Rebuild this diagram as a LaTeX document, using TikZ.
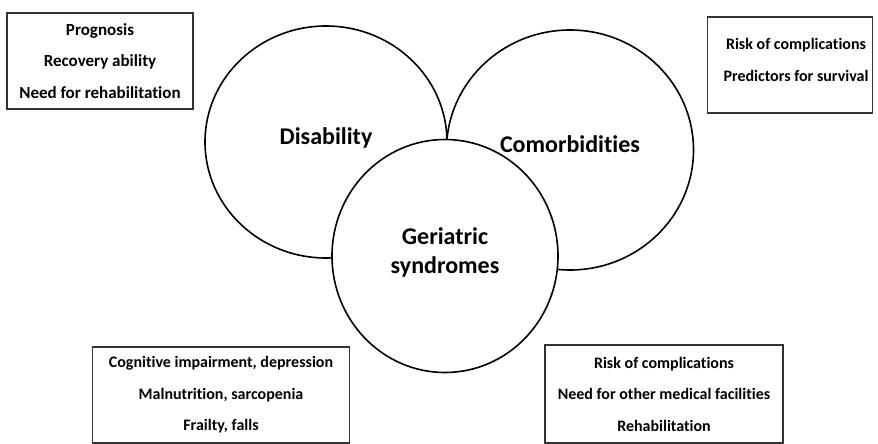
\documentclass[tikz,border=0pt]{standalone}
\usepackage{fontspec}
\setmainfont{Carlito}[Ligatures=NoCommon]
\usetikzlibrary{shapes}

\begin{document}
\begin{tikzpicture}[x=0.5pt,y=-0.5pt]
    \bfseries
    \tikzstyle{circ}=[draw=black,ellipse,line width=0.8pt,fill=white,inner sep=0pt]
    \tikzstyle{circtext}=[text=black,align=center,font=\fontsize{12}{14.5}\selectfont]
    \tikzstyle{box}=[draw=black!80,rectangle,line width=0.8pt,fill=white,inner sep=0pt,text=black,align=center,font=\fontsize{8}{15.75}\selectfont]

    \useasboundingbox (0,0) rectangle (878,444);

    \node[circ,minimum width=121pt,minimum height=116pt,label={[circtext,yshift=2pt]center:Disability}] (D) at (326,142) {};
    \node[circ,minimum width=123.5pt,minimum height=120pt,label={[circtext,yshift=3pt]center:Comorbidities}] (C) at (570,150) {};
    \node[circ,minimum width=113pt,minimum height=116.5pt,label={[circtext,yshift=1.8pt]center:Geriatric\\syndromes}] (G) at (445,256) {};

    \node[box,minimum width=93pt,minimum height=48pt,font=\fontsize{8.5}{15.75}\selectfont] (DB) at (100,61) {Prognosis\\Recovery ability\\Need for rehabilitation};
    \node[box,minimum width=82.5pt,minimum height=48pt,label={[box,draw=none,xshift=3pt,yshift=2.5pt]center:Risk of complications\\Predictors for survival}] (CB) at (790,65) {};
    \node[box,minimum width=128.5pt,minimum height=48pt] (GB) at (221,395) {Cognitive impairment, depression\\Malnutrition, sarcopenia\\Frailty, falls};
    \node[box,minimum width=119pt,minimum height=49pt] (RB) at (664,394) {Risk of complications\\Need for other medical facilities\\Rehabilitation};
\end{tikzpicture}
\end{document}
